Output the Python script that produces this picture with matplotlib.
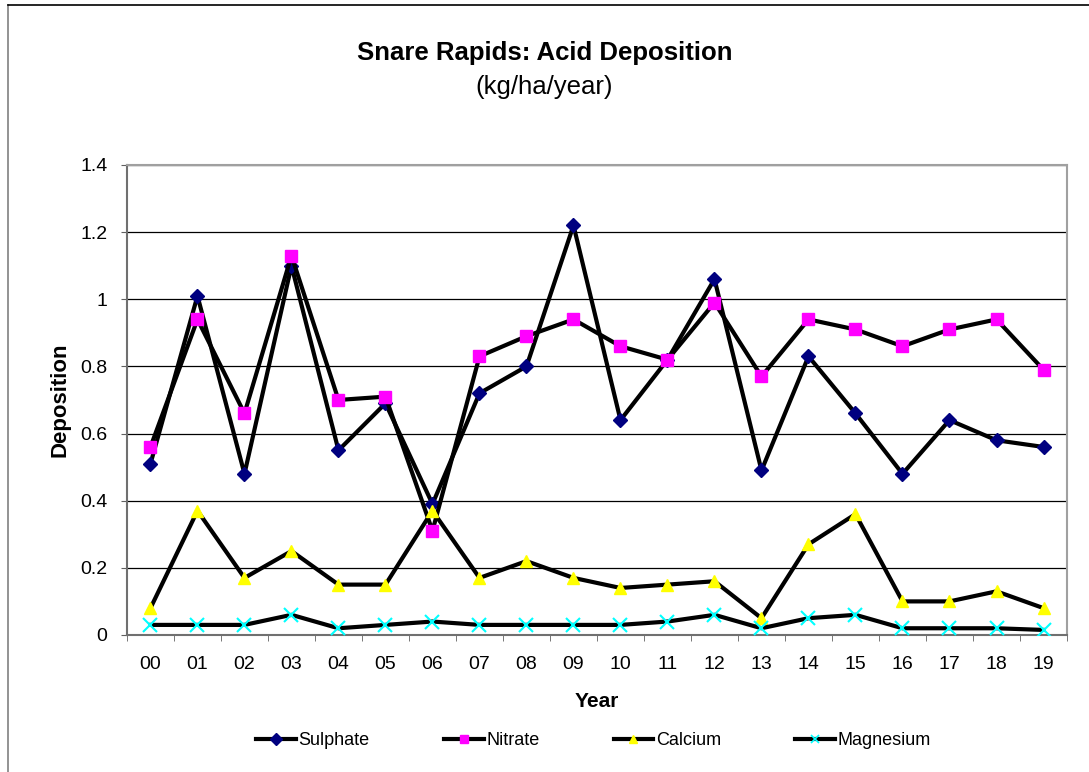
import numpy as np
import matplotlib
matplotlib.use('Agg')
import matplotlib.pyplot as plt
from matplotlib.lines import Line2D

plt.rcParams['font.family'] = ['Liberation Sans', 'DejaVu Sans']

# Data
years = ['00', '01', '02', '03', '04', '05', '06', '07', '08', '09',
         '10', '11', '12', '13', '14', '15', '16', '17', '18', '19']
sulphate = [0.51, 1.01, 0.48, 1.10, 0.55, 0.69, 0.39, 0.72, 0.80, 1.22,
            0.64, 0.82, 1.06, 0.49, 0.83, 0.66, 0.48, 0.64, 0.58, 0.56]
nitrate = [0.56, 0.94, 0.66, 1.13, 0.70, 0.71, 0.31, 0.83, 0.89, 0.94,
           0.86, 0.82, 0.99, 0.77, 0.94, 0.91, 0.86, 0.91, 0.94, 0.79]
calcium = [0.08, 0.37, 0.17, 0.25, 0.15, 0.15, 0.37, 0.17, 0.22, 0.17,
           0.14, 0.15, 0.16, 0.05, 0.27, 0.36, 0.10, 0.10, 0.13, 0.08]
magnesium = [0.03, 0.03, 0.03, 0.06, 0.02, 0.03, 0.04, 0.03, 0.03, 0.03,
             0.03, 0.04, 0.06, 0.02, 0.05, 0.06, 0.02, 0.02, 0.02, 0.015]

series = [
    ('Sulphate', sulphate, 'D', '#000080', 7),
    ('Nitrate', nitrate, 's', '#ff00ff', 9),
    ('Calcium', calcium, '^', '#ffff00', 9),
    ('Magnesium', magnesium, 'x', '#00ffff', 10),
]

fig = plt.figure(figsize=(10.89, 7.72), dpi=100)
ax = fig.add_axes([0.1166, 0.1775, 0.8632, 0.6088])

x = np.arange(len(years))
for name, vals, mk, col, ms in series:
    if mk == 'x':
        ax.plot(x, vals, color='black', lw=3, zorder=3)
        ax.plot(x, vals, ls='none', marker='x', ms=ms, mew=1.5, color=col, zorder=4)
    else:
        ax.plot(x, vals, color='black', lw=3, marker=mk, ms=ms,
                mfc=col, mec=col, zorder=3)

ax.set_xlim(-0.5, len(years) - 0.5)
ax.set_ylim(0, 1.4)
ax.set_yticks(np.arange(0, 1.41, 0.2))
ax.set_yticklabels(['0', '0.2', '0.4', '0.6', '0.8', '1', '1.2', '1.4'])
ax.set_xticks(x)
ax.set_xticklabels(years)
ax.set_xticks(np.arange(-0.5, len(years), 1), minor=True)
ax.tick_params(axis='x', which='major', length=0, pad=15, labelsize=14)
ax.tick_params(axis='x', which='minor', length=4, direction='out', color='#606060')
ax.tick_params(axis='y', length=4, direction='out', labelsize=14, pad=10, color='#606060')
ax.grid(axis='y', color='black', lw=0.9)
ax.set_axisbelow(True)
for s in ['top', 'right']:
    ax.spines[s].set_color('#a0a0a0')
    ax.spines[s].set_linewidth(1.5)
for s in ['left', 'bottom']:
    ax.spines[s].set_color('#707070')
    ax.spines[s].set_linewidth(1.5)

ax.set_xlabel('Year', fontsize=15, fontweight='bold', labelpad=14)
ax.set_ylabel('Deposition', fontsize=16, fontweight='bold', labelpad=7)

fig.text(0.5, 0.931, 'Snare Rapids: Acid Deposition', ha='center', va='center',
         fontsize=18.5, fontweight='bold')
fig.text(0.5, 0.887, '(kg/ha/year)', ha='center', va='center', fontsize=18.5)

handles = []
for name, vals, mk, col, ms in series:
    if mk == 'x':
        handles.append(Line2D([], [], color='black', lw=3, marker='x', ms=6,
                              mec=col, mew=1.2, label=name))
    else:
        handles.append(Line2D([], [], color='black', lw=3, marker=mk, ms=6,
                              mfc=col, mec=col, label=name))
fig.legend(handles=handles, loc='center', bbox_to_anchor=(0.545, 0.041), ncol=4,
           frameon=False, fontsize=13, handlelength=2.2, columnspacing=4.1,
           handletextpad=0.15)

# chart outer frame
fig.add_artist(Line2D([0.0073, 0.0073], [0, 0.9935], color='#808080', lw=1.2,
                      transform=fig.transFigure))
fig.add_artist(Line2D([0.0073, 1], [0.9935, 0.9935], color='black', lw=1.2,
                      transform=fig.transFigure))

fig.savefig('out.png', dpi=100)
